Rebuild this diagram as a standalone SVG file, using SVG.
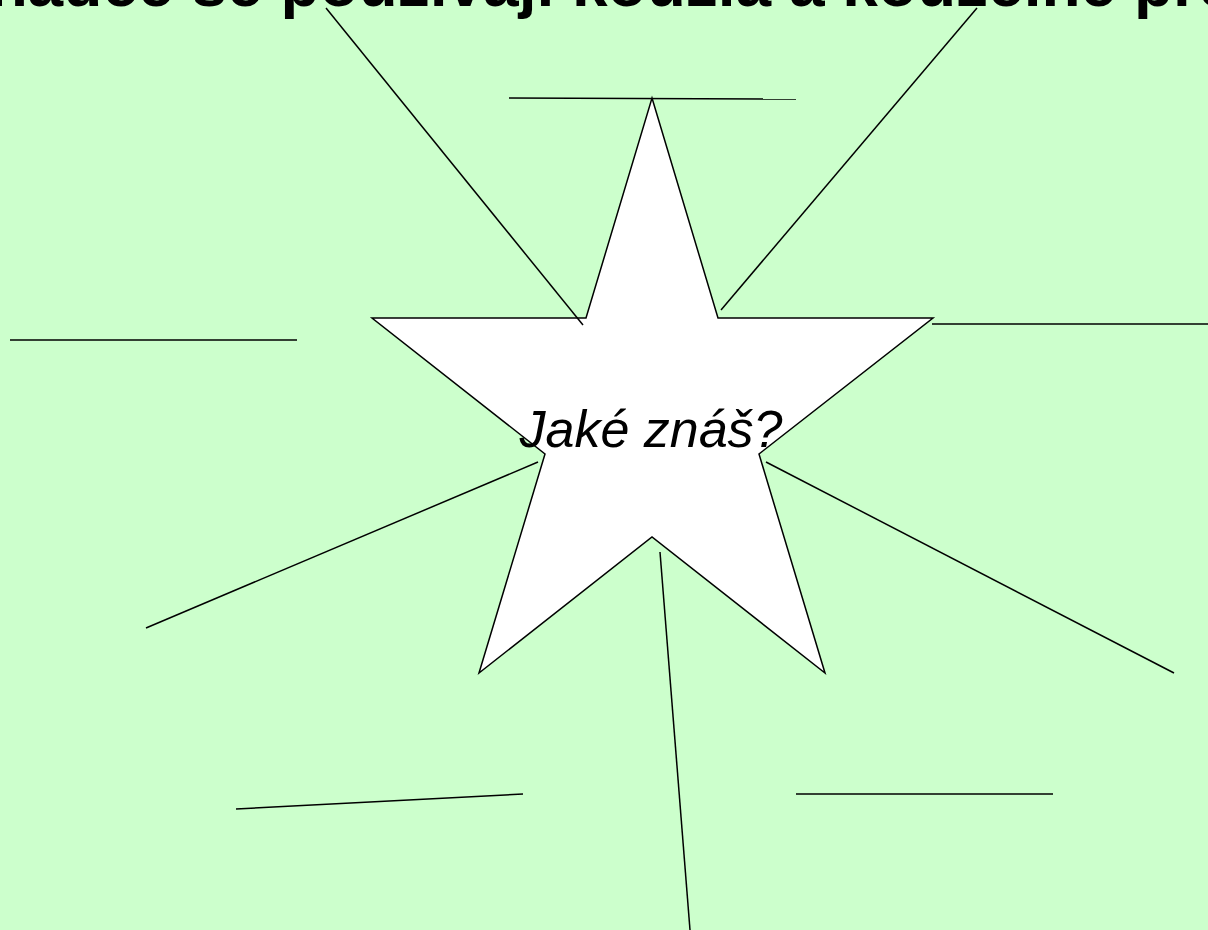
<svg xmlns="http://www.w3.org/2000/svg" width="1208" height="930" viewBox="0 0 1208 930">
<style>
.title{font-family:"Liberation Sans",Arial,sans-serif;font-weight:bold;font-size:64px;fill:#000}
.lbl{font-family:"Liberation Sans",Arial,sans-serif;font-style:italic;font-size:52px;fill:#000}
.ln{stroke:#000;stroke-width:1.5;fill:none}
</style>
<rect width="1208" height="930" fill="#CCFFCC"/>
<text class="title" x="-150" y="6">V pohádce se používají kouzla a kouzelné předměty</text>
<g id="star">
<polygon points="652,98 718,318 933,318 759,454 825,673 652,537 479,673 545,454 372,318 586,318" fill="#fff" stroke="#000" stroke-width="1.5"/>
</g>
<g id="connectors">
<line class="ln" x1="326" y1="8" x2="583" y2="325"/>
<line class="ln" x1="977" y1="8" x2="721" y2="310"/>
<line class="ln" x1="509" y1="98" x2="796" y2="99"/>
<line class="ln" x1="10" y1="340" x2="297" y2="340"/>
<line class="ln" x1="932" y1="324" x2="1208" y2="324"/>
<line class="ln" x1="146" y1="628" x2="538" y2="462"/>
<line class="ln" x1="766" y1="462" x2="1174" y2="673"/>
<line class="ln" x1="660" y1="552" x2="690" y2="930"/>
<line class="ln" x1="236" y1="809" x2="523" y2="794"/>
<line class="ln" x1="796" y1="794" x2="1053" y2="794"/>
</g>
<g id="label">
<text class="lbl" x="651" y="447" text-anchor="middle">Jaké znáš?</text>
</g>
</svg>
